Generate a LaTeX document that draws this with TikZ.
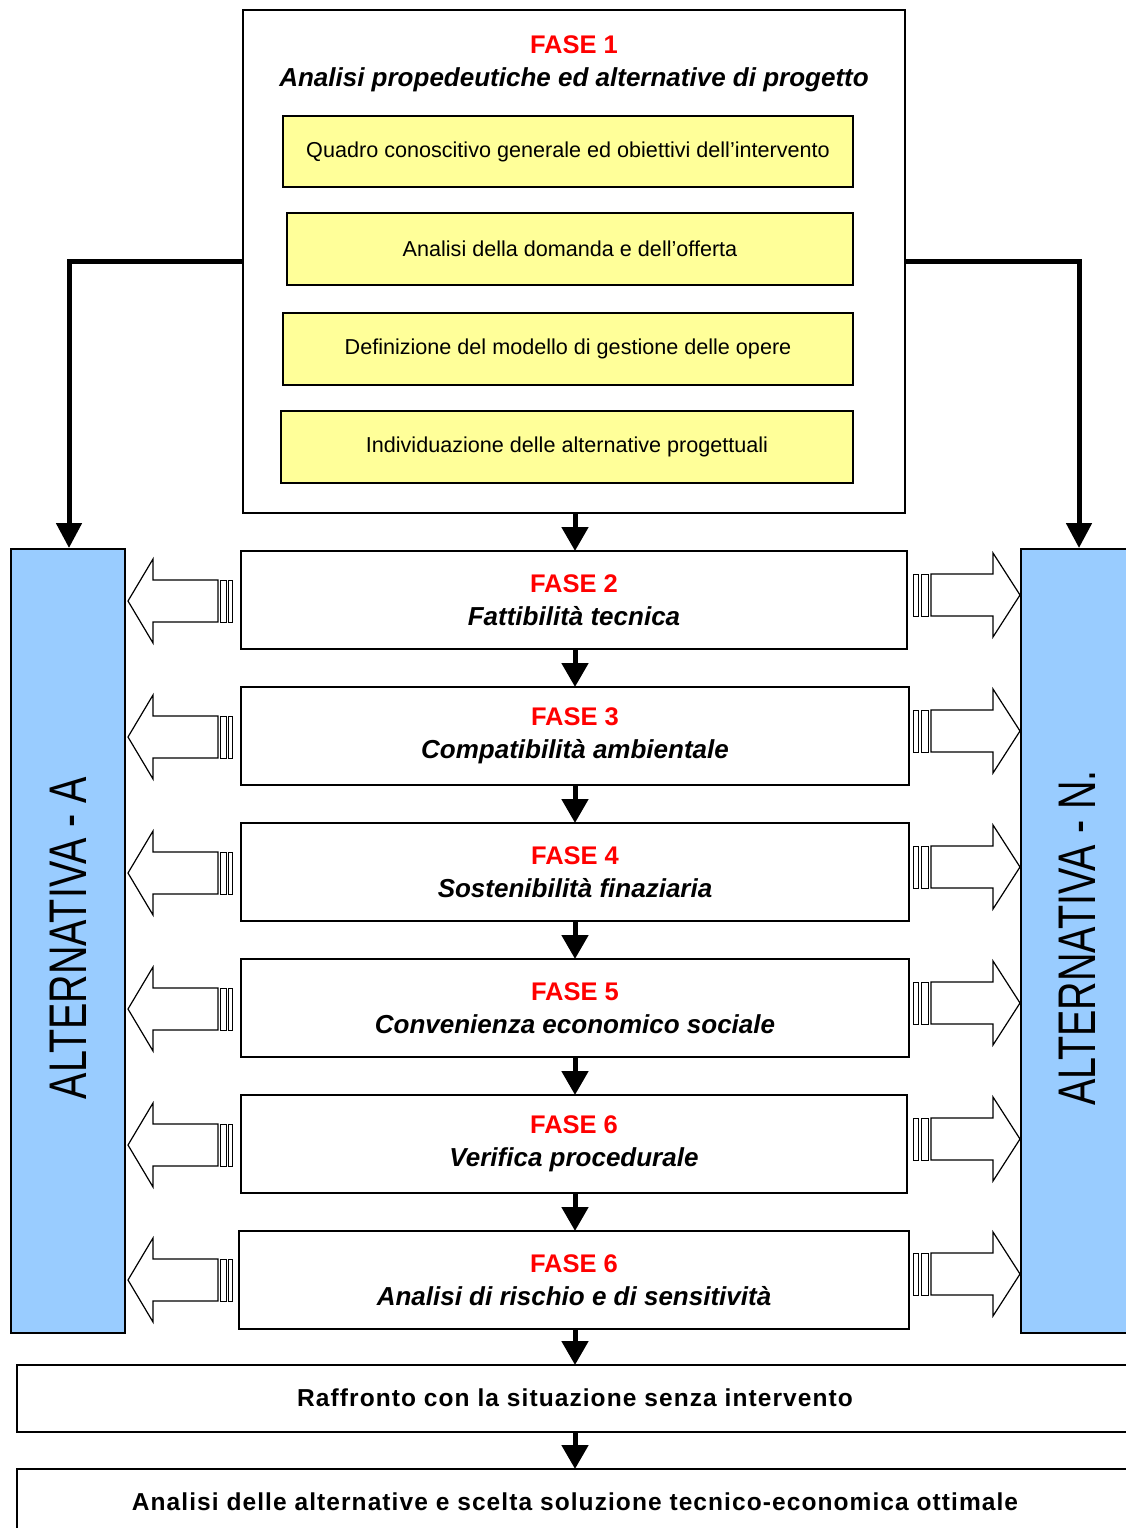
\documentclass[tikz,border=0pt]{standalone}
\usepackage{fontspec}
\setmainfont{Liberation Sans}
\usetikzlibrary{arrows.meta}
\definecolor{faseRed}{RGB}{255,0,0}
\definecolor{yelFill}{RGB}{255,255,153}
\definecolor{altBlue}{RGB}{153,204,255}
\newcommand{\leftstriped}[1]{%
  \begin{scope}[shift={(0,#1)}]
    \draw[hollow] (128,0) -- (153,-42) -- (153,-21) -- (218,-21) -- (218,21) -- (153,21) -- (153,42) -- cycle;
    \draw[stripe] (220,-21) rectangle (226,21);
    \draw[stripe] (228,-21) rectangle (232,21);
  \end{scope}}
\newcommand{\rightstriped}[1]{%
  \begin{scope}[shift={(0,#1)}]
    \draw[stripe] (913,-21) rectangle (918,21);
    \draw[stripe] (921,-21) rectangle (928,21);
    \draw[hollow] (931,-21) -- (993,-21) -- (993,-42) -- (1020,0) -- (993,42) -- (993,21) -- (931,21) -- cycle;
  \end{scope}}
\newcommand{\titleline}[1]{{\fontsize{25.5}{33}\selectfont\textcolor{faseRed}{#1}}}
\begin{document}
\begin{tikzpicture}[x=1pt,y=-1pt,
  box/.style={draw=black,line width=1.6pt,fill=white,inner sep=0pt,align=center},
  fasebox/.style={box,font=\fontsize{26}{33}\selectfont\bfseries},
  yelbox/.style={draw=black,line width=1.6pt,fill=yelFill,inner sep=0pt,font=\fontsize{21.6}{24}\selectfont},
  altbox/.style={draw=black,line width=1.6pt,fill=altBlue,inner sep=0pt},
  hollow/.style={draw=black,line width=1.2pt,fill=white,line join=miter},
  stripe/.style={draw=black,line width=0.9pt,fill=white},
  spaced/.style={font=\fontsize{24.5}{28}\selectfont\bfseries\addfontfeature{LetterSpace=4.4}},
  flow/.style={line width=5pt,-{Triangle[width=26pt,length=24pt]}},
  side/.style={line width=5pt,-{Triangle[width=25pt,length=25pt]}}
]
\useasboundingbox (0,0) rectangle (1125,1528);
\fill[white] (0,0) rectangle (1125,1528);

% FASE 1
\node[box,minimum width=662pt,minimum height=503pt] (f1) at (574,261.5) {};
\node[font=\fontsize{26}{33}\selectfont\bfseries,align=center,inner sep=0pt] (f1t) at (574,64)
  {\titleline{FASE 1}\\\itshape Analisi propedeutiche ed alternative di progetto};
\node[yelbox,minimum width=570pt,minimum height=71pt] (y1) at (568,151.5) {Quadro conoscitivo generale ed obiettivi dell'intervento};
\node[yelbox,minimum width=566pt,minimum height=72pt] (y2) at (570,249) {Analisi della domanda e dell'offerta};
\node[yelbox,minimum width=570pt,minimum height=72pt] (y3) at (568,349) {Definizione del modello di gestione delle opere};
\node[yelbox,minimum width=572pt,minimum height=72pt] (y4) at (567,447) {Individuazione delle alternative progettuali};

% Alternatives
\node[altbox,minimum width=114pt,minimum height=784pt] (altA) at (68,941) {};
\node[altbox,minimum width=114pt,minimum height=784pt] (altN) at (1078,941) {};
\node[rotate=90,font=\fontsize{39.5}{40}\selectfont,inner sep=0pt] (altAt) at (68,938) {\scalebox{1}[1.34]{ALTERNATIVA - A}};
\node[rotate=90,font=\fontsize{39.5}{40}\selectfont,inner sep=0pt] (altNt) at (1077,938) {\scalebox{1}[1.34]{ALTERNATIVA - N.}};

% Phase boxes
\node[fasebox,minimum width=666pt,minimum height=98pt] (f2) at (574,600) {\titleline{FASE 2}\\\itshape Fattibilità tecnica};
\node[fasebox,minimum width=668pt,minimum height=98pt] (f3) at (575,736) {\titleline{FASE 3}\\\itshape Compatibilità ambientale};
\node[fasebox,minimum width=668pt,minimum height=98pt] (f4) at (575,872) {\titleline{FASE 4}\\\itshape Sostenibilità finaziaria};
\node[fasebox,minimum width=668pt,minimum height=98pt] (f5) at (575,1008) {\titleline{FASE 5}\\\itshape Convenienza economico sociale};
\node[fasebox,minimum width=666pt,minimum height=98pt] (f6) at (574,1144) {\titleline{FASE 6}\\\itshape Verifica procedurale};
\node[fasebox,minimum width=670pt,minimum height=98pt] (f7) at (574,1280) {\titleline{FASE 6}\\\itshape Analisi di rischio e di sensitività};

\node[box,minimum width=1116pt,minimum height=67pt] (raf) at (575,1398.5) {};
\node[spaced,inner sep=0pt] (raft) at (575,1398) {Raffronto con la situazione senza intervento};
\node[box,minimum width=1116pt,minimum height=67pt] (an) at (575,1502.5) {};
\node[spaced,inner sep=0pt] (ant) at (575,1502) {Analisi delle alternative e scelta soluzione tecnico-economica ottimale};

% side connectors
\draw[side] (f1.west|-0,261) -- (69,261) -- (69,548);
\draw[side] (f1.east|-0,261) -- (1079,261) -- (1079,548);

% flow arrows
\draw[flow] (575,513) -- (575,551);
\draw[flow] (575,649) -- (575,687);
\draw[flow] (575,785) -- (575,823);
\draw[flow] (575,921) -- (575,959);
\draw[flow] (575,1057) -- (575,1095);
\draw[flow] (575,1193) -- (575,1231);
\draw[flow] (575,1329) -- (575,1365);
\draw[flow] (575,1432) -- (575,1469);

% striped arrows
\leftstriped{601}
\leftstriped{737}
\leftstriped{873}
\leftstriped{1009}
\leftstriped{1145}
\leftstriped{1280}
\rightstriped{595}
\rightstriped{731}
\rightstriped{867}
\rightstriped{1003}
\rightstriped{1139}
\rightstriped{1274}
\end{tikzpicture}
\end{document}
